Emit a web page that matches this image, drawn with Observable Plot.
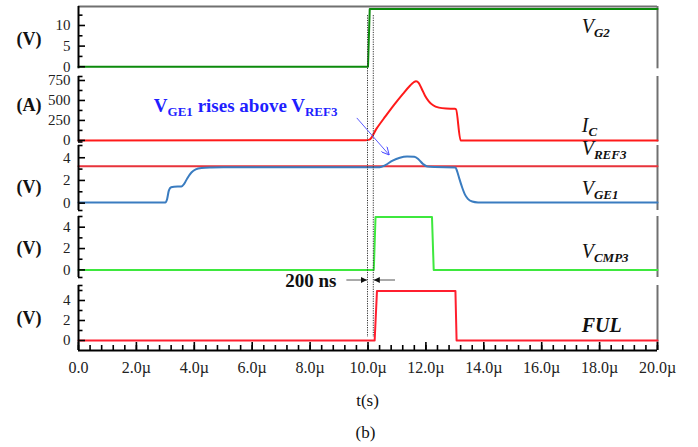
<!DOCTYPE html>
<html><head><meta charset="utf-8">
<script src="https://cdn.jsdelivr.net/npm/d3@7"></script>
<script src="https://cdn.jsdelivr.net/npm/@observablehq/plot@0.6"></script>
<style>
html,body{margin:0;padding:0;background:#fff;}
#chart{position:relative;width:698px;height:447px;overflow:hidden;font-family:"Liberation Serif","Times New Roman",serif;background:#fff;}
#chart svg{position:absolute;left:0;overflow:visible;}
.cap{position:absolute;font-size:17px;color:#111;transform:translate(-50%,-50%);white-space:nowrap;}
</style></head><body><div id="chart"></div>
<script>
// ---- x axis ----
const xDomain = [0, 20];
const xMajorTicks = [0, 2, 4, 6, 8, 10, 12, 14, 16, 18, 20];
const xTickLabels = ["0.0", "2.0\u00b5", "4.0\u00b5", "6.0\u00b5", "8.0\u00b5", "10.0\u00b5", "12.0\u00b5", "14.0\u00b5", "16.0\u00b5", "18.0\u00b5", "20.0\u00b5"];
const xMinorTicks = d3.range(0, 20.001, 0.4);

// ---- series (time in µs) ----
const vg2T = [0, 10.0, 10.06, 20];
const vg2V = [0, 0, 14, 14];

const icT = [0, 9.9, 10.05, 10.3, 10.6, 10.9, 11.2, 11.45, 11.58, 11.66, 11.75, 11.85, 11.97, 12.1, 12.25, 12.45, 12.7, 13.0, 13.04, 13.2, 20];
const icV = [0, 2, 10, 150, 300, 445, 580, 685, 728, 740, 720, 650, 560, 490, 440, 410, 398, 395, 390, 0, 0];

const vref3T = [0, 20];
const vref3V = [3.26, 3.26];

const vge1T = [0, 3.0, 3.06, 3.12, 3.2, 3.3, 3.55, 3.65, 3.75, 3.9, 4.05, 4.25, 4.6, 5.0, 10.4, 10.6, 10.85, 11.1, 11.35, 11.6, 11.75, 11.9, 12.05, 12.3, 13.02, 13.08, 13.15, 13.25, 13.35, 13.45, 13.6, 13.8, 14.0, 20];
const vge1V = [0.05, 0.05, 0.35, 1.1, 1.4, 1.45, 1.47, 1.7, 2.15, 2.7, 2.98, 3.1, 3.15, 3.17, 3.17, 3.35, 3.75, 4.0, 4.1, 4.08, 3.85, 3.45, 3.22, 3.18, 3.15, 2.8, 2.2, 1.4, 0.75, 0.38, 0.14, 0.06, 0.05, 0.05];

const vcmp3T = [0, 10.2, 10.26, 12.21, 12.27, 20];
const vcmp3V = [0, 0, 4.95, 4.95, 0, 0];

const fulT = [0, 10.23, 10.31, 13.02, 13.06, 20];
const fulV = [0, 0, 4.95, 4.95, 0, 0];

// ---- annotation values ----
const markerTimes = [10.0, 10.2];
const arrowNote = "200 ns";

// ---- panel scales ----
const panelSpecs = [
  {top: 0, height: 72, mt: 6, mb: 3.7, domain: [-0.5, 14.6], major: [0, 5, 10], minor: [2.5, 7.5, 12.5], unit: "(V)", unitAt: 6.6,
   series: [{t: vg2T, v: vg2V, color: "#0b8a0b"}], topBorder: true},
  {top: 72, height: 72, mt: 4, mb: 2.5, domain: [-20, 800], major: [0, 250, 500, 750], minor: [-20, 125, 375, 625, 800], unit: "(A)", unitAt: 440,
   series: [{t: icT, v: icV, color: "#ff1a1a", curve: "monotone-x"}]},
  {top: 144, height: 69, mt: 1, mb: 3, domain: [-0.65, 5.08], major: [0, 2, 4], minor: [-0.65, 1, 3, 5.08], unit: "(V)", unitAt: 1.4,
   series: [{t: vref3T, v: vref3V, color: "#e8333b"}, {t: vge1T, v: vge1V, color: "#3a7cc0", curve: "monotone-x"}]},
  {top: 213, height: 70, mt: 3, mb: 6, domain: [-0.71, 5.0], major: [0, 2, 4], minor: [-0.71, 1, 3, 5.0], unit: "(V)", unitAt: 2.0,
   series: [{t: vcmp3T, v: vcmp3V, color: "#3ee83e"}]},
  {top: 283, height: 117, mt: 2, mb: 50, domain: [-1.0, 5.5], major: [0, 2, 4], minor: [1, 3, 5, 5.5], unit: "(V)", unitAt: 2.2,
   series: [{t: fulT, v: fulV, color: "#ff1f2f"}], xAxis: true}
];

const chart = document.getElementById("chart");
const FONT = "'Liberation Serif','Times New Roman',serif";

const plots = panelSpecs.map(spec => {
  const marks = [];
  marks.push(Plot.ruleX([xDomain[1]], {y1: spec.domain[0], y2: spec.domain[1], stroke: "#707070", strokeWidth: 2}));
  if (spec.topBorder) marks.push(Plot.ruleY([spec.domain[1]], {x1: xDomain[0], x2: xDomain[1], stroke: "#707070", strokeWidth: 2}));
  for (const s of spec.series) {
    marks.push(Plot.line(d3.zip(s.t, s.v), {x: d => d[0], y: d => d[1], stroke: s.color, strokeWidth: 2, curve: s.curve || "linear"}));
  }
  marks.push(Plot.ruleX([xDomain[0]], {y1: spec.domain[0], y2: spec.domain[1], stroke: "#000", strokeWidth: 2}));
  marks.push(Plot.axisY(spec.major, {tickSize: -7, tickFormat: () => "", label: null, strokeWidth: 1.6}));
  marks.push(Plot.axisY(spec.minor, {tickSize: -4.5, tickFormat: () => "", label: null, strokeWidth: 1.6}));
  marks.push(Plot.axisY(spec.major, {tickSize: 0, tickPadding: 8, label: null, fontSize: 15, fill: "#222"}));
  if (spec.xAxis) {
    marks.push(Plot.ruleY([spec.domain[0]], {x1: xDomain[0], x2: xDomain[1], stroke: "#000", strokeWidth: 2}));
    marks.push(Plot.axisX(xMajorTicks, {tickSize: -8, tickFormat: () => "", label: null, strokeWidth: 1.6}));
    marks.push(Plot.axisX(xMinorTicks, {tickSize: -5, tickFormat: () => "", label: null, strokeWidth: 1.6}));
    marks.push(Plot.axisX(xMajorTicks, {tickSize: 0, tickPadding: 11, label: null, fontSize: 16, fill: "#222",
      tickFormat: d => xTickLabels[xMajorTicks.indexOf(d)]}));
  }
  const p = Plot.plot({
    width: 698, height: spec.height,
    marginLeft: 78, marginRight: 41, marginTop: spec.mt, marginBottom: spec.mb,
    x: spec.xAxis ? {domain: xDomain} : {domain: xDomain, axis: null},
    y: {domain: spec.domain},
    style: {fontFamily: FONT, background: "transparent", overflow: "visible"},
    marks
  });
  p.style.position = "absolute";
  p.style.top = spec.top + "px";
  p.style.left = "0px";
  chart.appendChild(p);
  return p;
});

// ---- overlay using the panels' scales ----
const X = v => plots[4].scale("x").apply(v);
const Y = (i, v) => panelSpecs[i].top + plots[i].scale("y").apply(v);

const svg = d3.create("svg").attr("width", 698).attr("height", 447)
  .style("position", "absolute").style("top", "0px").style("left", "0px")
  .style("font-family", FONT);
const defs = svg.append("defs");
defs.append("marker").attr("id", "blk").attr("viewBox", "0 0 10 10").attr("refX", 10).attr("refY", 5)
  .attr("markerWidth", 7).attr("markerHeight", 6).attr("markerUnits", "userSpaceOnUse").attr("orient", "auto")
  .append("path").attr("d", "M0,0L10,5L0,10Z").attr("fill", "#111");
defs.append("marker").attr("id", "blu").attr("viewBox", "0 0 10 10").attr("refX", 10).attr("refY", 5)
  .attr("markerWidth", 9).attr("markerHeight", 8).attr("markerUnits", "userSpaceOnUse").attr("orient", "auto")
  .append("path").attr("d", "M0,0L10,5L0,10").attr("fill", "none").attr("stroke", "#4a4aff").attr("stroke-width", 1.2);

// dotted marker lines
for (const t of markerTimes) {
  svg.append("line").attr("x1", X(t)).attr("x2", X(t))
    .attr("y1", Y(0, 12.4)).attr("y2", Y(4, 0.3))
    .attr("stroke", "#333").attr("stroke-width", 1).attr("stroke-dasharray", "1.2,1.2");
}

// 200 ns arrows
svg.append("line").attr("x1", X(9.27)).attr("x2", X(markerTimes[0]) - 0.5).attr("y1", Y(4, 6.0)).attr("y2", Y(4, 6.0))
  .attr("stroke", "#555").attr("stroke-width", 1).attr("marker-end", "url(#blk)");
svg.append("line").attr("x1", X(10.95)).attr("x2", X(markerTimes[1]) + 0.5).attr("y1", Y(4, 6.0)).attr("y2", Y(4, 6.0))
  .attr("stroke", "#555").attr("stroke-width", 1).attr("marker-end", "url(#blk)");
svg.append("text").attr("x", X(8.93)).attr("y", Y(4, 5.33)).attr("text-anchor", "end")
  .attr("font-weight", "bold").attr("font-size", 19).attr("fill", "#111").text(arrowNote);

// blue annotation
const blue = svg.append("text").attr("x", X(2.62)).attr("y", Y(1, 350))
  .attr("font-weight", "bold").attr("font-size", 19).attr("fill", "#1f1fff");
blue.append("tspan").text("V");
blue.append("tspan").attr("font-size", 13).attr("dy", 4).text("GE1");
blue.append("tspan").attr("dy", -4).text(" rises above V");
blue.append("tspan").attr("font-size", 13).attr("dy", 4).text("REF3");
svg.append("line").attr("x1", X(9.63)).attr("y1", Y(1, 275)).attr("x2", X(10.75)).attr("y2", Y(2, 4.2))
  .attr("stroke", "#5a5aff").attr("stroke-width", 1).attr("marker-end", "url(#blu)");

// series labels
const labels = [
  {p: 0, v: 8.0, main: "V", sub: "G2"},
  {p: 1, v: 103, main: "I", sub: "C"},
  {p: 2, v: 4.2, main: "V", sub: "REF3"},
  {p: 2, v: 0.67, main: "V", sub: "GE1"},
  {p: 3, v: 1.04, main: "V", sub: "CMP3"},
  {p: 4, v: 0.83, main: "FUL", sub: ""}
];
for (const l of labels) {
  const t = svg.append("text").attr("x", X(17.4)).attr("y", Y(l.p, l.v))
    .attr("font-style", "italic").attr("font-size", 20).attr("fill", "#111");
  const m = t.append("tspan").text(l.main);
  if (l.main === "FUL") m.attr("font-weight", "bold");
  if (l.sub) t.append("tspan").attr("font-size", 13).attr("font-weight", "bold").attr("dy", 4).text(l.sub);
}

// unit labels
for (let i = 0; i < panelSpecs.length; i++) {
  svg.append("text").attr("x", X(xDomain[0]) - 49).attr("y", Y(i, panelSpecs[i].unitAt))
    .attr("text-anchor", "middle").attr("dominant-baseline", "central")
    .attr("font-weight", "bold").attr("font-size", 18).attr("fill", "#111").text(panelSpecs[i].unit);
}
chart.appendChild(svg.node());

// captions
const c1 = document.createElement("div"); c1.className = "cap"; c1.textContent = "t(s)";
c1.style.left = X(10) + "px"; c1.style.top = "401px"; chart.appendChild(c1);
const c2 = document.createElement("div"); c2.className = "cap"; c2.textContent = "(b)";
c2.style.left = (X(10) - 2) + "px"; c2.style.top = "433px"; chart.appendChild(c2);
</script></body></html>
